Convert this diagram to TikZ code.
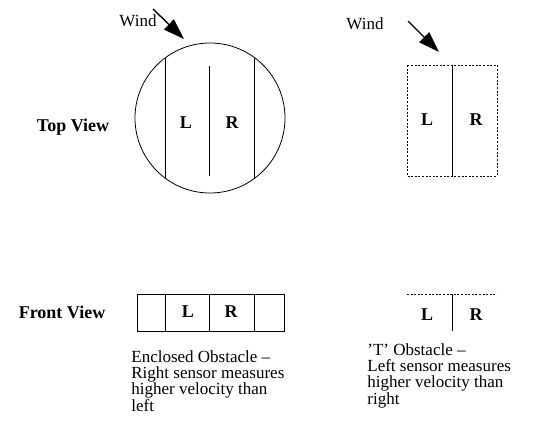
\documentclass[tikz,border=0pt]{standalone}
\usepackage{fontspec}
\setmainfont{Liberation Serif}
\usetikzlibrary{arrows.meta}
\begin{document}
\begin{tikzpicture}[x=1pt,y=-1pt,
  line width=0.8pt,
  lbl/.style={font=\fontsize{18}{20}\selectfont\bfseries, inner sep=0pt},
  txt/.style={font=\fontsize{17}{16.3}\selectfont, inner sep=0pt, align=left},
  windarrow/.style={line width=1.4pt, -{Triangle[length=21pt,width=14pt]}},
  dash1/.style={dash pattern=on 2pt off 1.6pt, line width=0.7pt}]
\useasboundingbox (0,0) rectangle (544,432);
% left top view
\node[txt] (wind1) at (138,21) {Wind};
\coordinate (a1s) at (153,9);
\coordinate (a1e) at (184,39);
\draw[windarrow] (a1s) -- (a1e);
\node[draw, circle, minimum size=150pt, inner sep=0pt] (circ) at (210,118) {};
\draw (165,58) -- (165,178);
\draw (254,58) -- (254,178);
\draw (209,66) -- (209,176);
\node[lbl] (L1) at (186,123) {L};
\node[lbl] (R1) at (232,123) {R};
\node[lbl] (tv) at (73,127) {Top View};
% right top view
\node[txt] (wind2) at (365,24) {Wind};
\coordinate (a2s) at (408,21);
\coordinate (a2e) at (439,52);
\draw[windarrow] (a2s) -- (a2e);
\draw[dash1] (407,65) rectangle (497,176);
\draw (452,65) -- (452,176);
\node[lbl] (L2) at (427,120) {L};
\node[lbl] (R2) at (476,120) {R};
% front views
\node[lbl] (fv) at (62,312) {Front View};
\draw (137,294) rectangle (284,331);
\draw (165,294) -- (165,331);
\draw (209,294) -- (209,331);
\draw (254,294) -- (254,331);
\node[lbl] (L3) at (188,312) {L};
\node[lbl] (R3) at (231,312) {R};
\draw[dash1] (407,294) -- (497,294);
\draw (452,294) -- (452,331);
\node[lbl] (L4) at (427,315) {L};
\node[lbl] (R4) at (476,315) {R};
% captions
\node[txt, anchor=north west] (cap1) at (131,350) {Enclosed Obstacle --\\Right sensor measures\\higher velocity than\\left};
\node[txt, anchor=north west] (cap2) at (367,343) {'T' Obstacle --\\Left sensor measures\\higher velocity than\\right};
\end{tikzpicture}
\end{document}
